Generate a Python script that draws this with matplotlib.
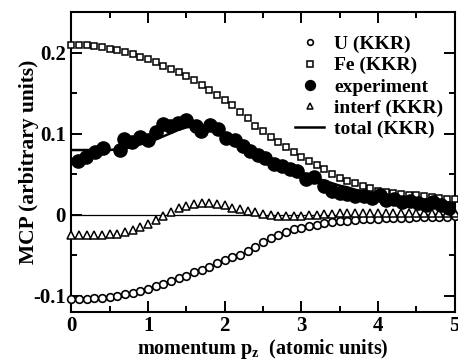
import matplotlib
matplotlib.use("Agg")
import matplotlib.pyplot as plt
from matplotlib.ticker import MultipleLocator

# momentum grid of the KKR curves (atomic units)
p_kkr = [0.0, 0.1, 0.2, 0.3, 0.4, 0.5, 0.6, 0.7, 0.8, 0.9,
         1.0, 1.1, 1.2, 1.3, 1.4, 1.5, 1.6, 1.7, 1.8, 1.9,
         2.0, 2.1, 2.2, 2.3, 2.4, 2.5, 2.6, 2.7, 2.8, 2.9,
         3.0, 3.1, 3.2, 3.3, 3.4, 3.5, 3.6, 3.7, 3.8, 3.9,
         4.0, 4.1, 4.2, 4.3, 4.4, 4.5, 4.6, 4.7, 4.8, 4.9, 5.0]

u_kkr = [-0.104, -0.104, -0.104, -0.103, -0.102, -0.101, -0.100, -0.098, -0.096, -0.094,
         -0.091, -0.088, -0.085, -0.082, -0.078, -0.075, -0.071, -0.068, -0.064, -0.060,
         -0.056, -0.052, -0.049, -0.045, -0.040, -0.034, -0.029, -0.025, -0.021, -0.018,
         -0.016, -0.014, -0.012, -0.010, -0.009, -0.008, -0.007, -0.006, -0.0055, -0.005,
         -0.0045, -0.004, -0.004, -0.0035, -0.0035, -0.003, -0.003, -0.003, -0.0025, -0.0025, -0.002]

fe_kkr = [0.210, 0.210, 0.209, 0.208, 0.207, 0.205, 0.203, 0.201, 0.198, 0.195,
          0.192, 0.188, 0.184, 0.180, 0.176, 0.171, 0.166, 0.160, 0.154, 0.148,
          0.142, 0.135, 0.127, 0.119, 0.110, 0.103, 0.096, 0.090, 0.084, 0.078,
          0.072, 0.066, 0.061, 0.056, 0.051, 0.046, 0.042, 0.039, 0.036, 0.033,
          0.030, 0.028, 0.027, 0.026, 0.025, 0.024, 0.023, 0.022, 0.021, 0.020, 0.019]

interf_kkr = [-0.025, -0.025, -0.025, -0.025, -0.025, -0.024, -0.023, -0.021, -0.019, -0.015,
              -0.011, -0.006, -0.002, 0.003, 0.008, 0.011, 0.013, 0.015, 0.015, 0.014,
              0.012, 0.009, 0.007, 0.005, 0.003, 0.001, 0.000, -0.001, -0.001, -0.001,
              -0.001, 0.000, 0.000, 0.001, 0.001, 0.002, 0.002, 0.002, 0.002, 0.002,
              0.002, 0.002, 0.002, 0.002, 0.002, 0.002, 0.002, 0.002, 0.002, 0.002, 0.002]

total_kkr = [0.080, 0.080, 0.080, 0.080, 0.080, 0.080, 0.081, 0.082, 0.084, 0.087,
             0.090, 0.093, 0.097, 0.101, 0.105, 0.108, 0.109, 0.108, 0.105, 0.101,
             0.097, 0.092, 0.087, 0.082, 0.077, 0.072, 0.068, 0.064, 0.060, 0.056,
             0.052, 0.049, 0.045, 0.042, 0.039, 0.036, 0.034, 0.031, 0.029, 0.027,
             0.025, 0.023, 0.021, 0.020, 0.018, 0.017, 0.015, 0.014, 0.013, 0.012, 0.011]

# experiment
p_exp = [0.09, 0.19, 0.31, 0.41, 0.63, 0.69, 0.79, 0.90, 1.00, 1.10,
         1.19, 1.29, 1.39, 1.50, 1.62, 1.69, 1.81, 1.91, 2.02, 2.13,
         2.24, 2.33, 2.43, 2.52, 2.64, 2.75, 2.85, 2.94, 3.06, 3.16,
         3.30, 3.40, 3.50, 3.60, 3.70, 3.81, 3.92, 4.02, 4.10, 4.21,
         4.31, 4.42, 4.52, 4.62, 4.72, 4.82, 4.92]
mcp_exp = [0.066, 0.072, 0.078, 0.083, 0.080, 0.094, 0.090, 0.096, 0.092, 0.102,
           0.112, 0.110, 0.113, 0.117, 0.110, 0.103, 0.111, 0.106, 0.095, 0.092,
           0.085, 0.079, 0.074, 0.070, 0.063, 0.060, 0.057, 0.054, 0.044, 0.047,
           0.035, 0.030, 0.027, 0.026, 0.023, 0.023, 0.021, 0.024, 0.018, 0.020,
           0.016, 0.017, 0.015, 0.012, 0.016, 0.012, 0.009]

plt.rcParams['font.family'] = ['Liberation Serif', 'DejaVu Serif']
plt.rcParams['font.weight'] = 'bold'
plt.rcParams['mathtext.fontset'] = 'custom'
plt.rcParams['mathtext.rm'] = 'Liberation Serif:bold'
plt.rcParams['mathtext.it'] = 'Liberation Serif:bold'
plt.rcParams['mathtext.bf'] = 'Liberation Serif:bold'


def main():
    fig = plt.figure(figsize=(4.58, 3.6), dpi=100)
    ax = fig.add_axes([0.156, 0.133, 0.837, 0.833])

    ax.axhline(0, color='black', linewidth=0.9, zorder=1)

    # open symbols for the KKR partial curves
    ax.plot(p_kkr, u_kkr, 'o', markersize=5.5, markerfacecolor='white',
            markeredgecolor='black', markeredgewidth=1.2, label='U (KKR)',
            clip_on=False, zorder=3)
    ax.plot(p_kkr, fe_kkr, 's', markersize=5, markerfacecolor='white',
            markeredgecolor='black', markeredgewidth=1.1, label='Fe (KKR)',
            clip_on=False, zorder=3)
    ax.plot(p_exp, mcp_exp, 'o', markersize=9.5, color='black',
            label='experiment', zorder=4)
    ax.plot(p_kkr, interf_kkr, '^', markersize=5.5, markerfacecolor='white',
            markeredgecolor='black', markeredgewidth=1.1, label='interf (KKR)',
            clip_on=False, zorder=3)
    ax.plot(p_kkr, total_kkr, '-', color='black', linewidth=1.8,
            label='total (KKR)', zorder=5)

    ax.set_xlim(0, 5)
    ax.set_ylim(-0.12, 0.25)
    ax.xaxis.set_major_locator(MultipleLocator(1))
    ax.xaxis.set_minor_locator(MultipleLocator(0.5))
    ax.yaxis.set_minor_locator(MultipleLocator(0.05))
    ax.set_yticks([-0.1, 0, 0.1, 0.2])
    ax.set_yticklabels(['-0.1', '0', '0.1', '0.2'])
    ax.tick_params(which='both', direction='in', top=True, right=True,
                   labelsize=15, width=1.4)
    ax.tick_params(which='major', length=8)
    ax.tick_params(axis='x', which='major', pad=2.5)
    ax.tick_params(axis='y', which='major', pad=4)
    ax.tick_params(which='minor', length=4)
    for spine in ax.spines.values():
        spine.set_linewidth(1.5)

    ax.set_xlabel('momentum p$_z$  (atomic units)', fontsize=14.5,
                  fontweight='bold')
    ax.set_ylabel('MCP (arbitrary units)', fontsize=15.5, fontweight='bold')
    ax.xaxis.set_label_coords(0.5, -0.083)
    ax.yaxis.set_label_coords(-0.085, 0.5)

    ax.legend(loc='upper right', bbox_to_anchor=(0.99, 0.948), frameon=False,
              fontsize=14, handlelength=1.5, handletextpad=0.5,
              labelspacing=0.18, borderaxespad=0, markerscale=0.75)

    fig.savefig('out.png', dpi=100)


if __name__ == "__main__":
    main()
